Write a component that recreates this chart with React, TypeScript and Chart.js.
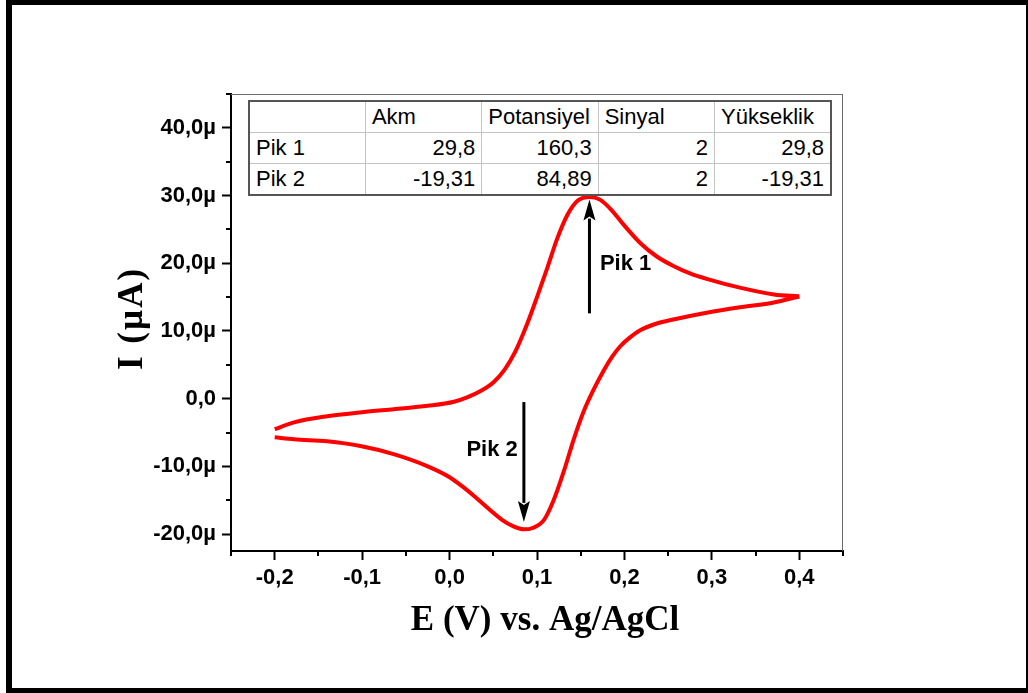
import React, { useEffect, useRef } from 'react';
import { Chart, registerables } from 'chart.js';

Chart.register(...registerables);

// Cyclic voltammogram: forward (anodic) scan, E in V, I in µA
const forwardE = [-0.200, -0.178, -0.140, -0.100, -0.064, -0.025, 0.005, 0.020, 0.035, 0.050, 0.063, 0.075, 0.088, 0.100, 0.112, 0.123, 0.135, 0.147, 0.160, 0.172, 0.185, 0.199, 0.218, 0.237, 0.256, 0.275, 0.294, 0.332, 0.371, 0.400];
const forwardI = [-4.5, -3.5, -2.6, -2.0, -1.55, -1.05, -0.45, 0.2, 1.1, 2.4, 4.3, 6.9, 10.8, 15.0, 19.4, 23.6, 27.2, 29.3, 29.8, 29.4, 27.9, 25.7, 23.0, 21.0, 19.6, 18.5, 17.7, 16.4, 15.4, 15.1];
// reverse (cathodic) scan
const reverseE = [0.400, 0.371, 0.332, 0.294, 0.256, 0.237, 0.218, 0.205, 0.195, 0.186, 0.176, 0.165, 0.153, 0.142, 0.131, 0.119, 0.108, 0.095, 0.085, 0.072, 0.060, 0.045, 0.030, 0.015, 0.000, -0.025, -0.064, -0.102, -0.140, -0.178, -0.200];
const reverseI = [15.1, 14.2, 13.5, 12.7, 11.7, 11.1, 10.1, 8.9, 7.7, 6.2, 4.1, 1.4, -2.0, -6.0, -10.6, -15.0, -17.9, -19.1, -19.3, -18.8, -17.9, -16.3, -14.6, -13.0, -11.6, -10.0, -8.2, -7.0, -6.3, -6.0, -5.7];

const xTickValues = [-0.2, -0.1, 0, 0.1, 0.2, 0.3, 0.4];
const xMinorValues = [-0.25, -0.15, -0.05, 0.05, 0.15, 0.25, 0.35, 0.45];
const yTickValues = [-20, -10, 0, 10, 20, 30, 40];
const yMinorValues = [-15, -5, 5, 15, 25, 35, 45];

const xTitle = 'E (V) vs. Ag/AgCl';
const yTitle = 'I (µA)';

// Peak arrows and labels
const arrowE = [0.160, 0.085];
const arrowFromI = [12.6, -0.5];
const arrowToI = [29.4, -18.2];
const peakLabels = ['Pik 1', 'Pik 2'];
const peakLabelE = [0.172, 0.078];
const peakLabelI = [19.9, -7.5];
const peakLabelAlign: CanvasTextAlign[] = ['left', 'right'];

// Peak table
const tableHeader = ['', 'Akm', 'Potansiyel', 'Sinyal', 'Yükseklik'];
const tableRowNames = ['Pik 1', 'Pik 2'];
const tableAkm = ['29,8', '-19,31'];
const tablePotansiyel = ['160,3', '84,89'];
const tableSinyal = ['2', '2'];
const tableYukseklik = ['29,8', '-19,31'];

const SANS = '"Liberation Sans", Arial, sans-serif';
const SERIF = '"Liberation Serif", "Times New Roman", serif';

const fmtX = (v: number) => v.toFixed(1).replace('.', ',');
const fmtY = (v: number) => (v === 0 ? '0,0' : v.toFixed(1).replace('.', ',') + 'µ');

const decorPlugin = {
  id: 'decor',
  afterDraw(chart: any) {
    const { ctx, chartArea, scales } = chart;
    const x = scales.x;
    const y = scales.y;
    ctx.save();
    // top and right frame
    ctx.strokeStyle = '#6a6a6a';
    ctx.lineWidth = 1;
    ctx.beginPath();
    ctx.moveTo(chartArea.left, chartArea.top + 0.5);
    ctx.lineTo(chartArea.right, chartArea.top + 0.5);
    ctx.moveTo(chartArea.right - 0.5, chartArea.top);
    ctx.lineTo(chartArea.right - 0.5, chartArea.bottom);
    ctx.stroke();
    // minor ticks
    ctx.strokeStyle = '#000';
    ctx.lineWidth = 2;
    ctx.beginPath();
    xMinorValues.forEach((v) => {
      const px = Math.round(x.getPixelForValue(v));
      ctx.moveTo(px, chartArea.bottom);
      ctx.lineTo(px, chartArea.bottom + 5);
    });
    yMinorValues.forEach((v) => {
      const py = Math.round(y.getPixelForValue(v));
      ctx.moveTo(chartArea.left, py);
      ctx.lineTo(chartArea.left - 5, py);
    });
    ctx.stroke();
    // arrows
    arrowE.forEach((e, i) => {
      const px = x.getPixelForValue(e);
      const y0 = y.getPixelForValue(arrowFromI[i]);
      const y1 = y.getPixelForValue(arrowToI[i]);
      const dir = Math.sign(y1 - y0);
      const headLen = 21;
      const headHalf = 6;
      ctx.strokeStyle = '#000';
      ctx.fillStyle = '#000';
      ctx.lineWidth = 3;
      ctx.beginPath();
      ctx.moveTo(px, y0);
      ctx.lineTo(px, y1 - dir * (headLen - 2));
      ctx.stroke();
      ctx.beginPath();
      ctx.moveTo(px, y1);
      ctx.lineTo(px - headHalf, y1 - dir * headLen);
      ctx.lineTo(px, y1 - dir * (headLen - 4));
      ctx.lineTo(px + headHalf, y1 - dir * headLen);
      ctx.closePath();
      ctx.fill();
    });
    // peak labels
    ctx.font = `bold 22px ${SANS}`;
    ctx.fillStyle = '#000';
    ctx.textBaseline = 'middle';
    peakLabels.forEach((t, i) => {
      ctx.textAlign = peakLabelAlign[i];
      ctx.fillText(t, x.getPixelForValue(peakLabelE[i]), y.getPixelForValue(peakLabelI[i]));
    });
    // axis titles
    ctx.font = `bold 35px ${SERIF}`;
    ctx.textAlign = 'center';
    ctx.textBaseline = 'middle';
    const cx = (chartArea.left + chartArea.right) / 2 + 8;
    ctx.fillText(xTitle, cx, chartArea.bottom + 70);
    ctx.save();
    ctx.translate(chartArea.left - 98, (chartArea.top + chartArea.bottom) / 2 - 4);
    ctx.rotate(-Math.PI / 2);
    try {
      (ctx as any).letterSpacing = '2px';
    } catch (e) {
      /* ignore */
    }
    ctx.fillText(yTitle, 0, 0);
    ctx.restore();
    ctx.restore();
  },
};

export default function App() {
  const canvasRef = useRef<HTMLCanvasElement | null>(null);

  useEffect(() => {
    const canvas = canvasRef.current;
    if (!canvas) return;
    const tickFont = { family: SANS, size: 22, weight: 'bold' as const };
    const lineStyle = {
      showLine: true,
      borderColor: '#ff0000',
      borderWidth: 4,
      pointRadius: 0,
      cubicInterpolationMode: 'monotone' as const,
      fill: false,
    };
    const chart = new Chart(canvas, {
      type: 'scatter',
      data: {
        datasets: [
          { ...lineStyle, data: forwardE.map((e, i) => ({ x: e, y: forwardI[i] })) },
          { ...lineStyle, data: reverseE.map((e, i) => ({ x: e, y: reverseI[i] })) },
        ],
      },
      options: {
        animation: false,
        responsive: false,
        devicePixelRatio: 1,
        layout: { padding: { left: 114, right: 185, top: 94, bottom: 53 } },
        plugins: { legend: { display: false }, tooltip: { enabled: false } },
        scales: {
          x: {
            type: 'linear',
            min: -0.25,
            max: 0.45,
            afterBuildTicks: (s: any) => {
              s.ticks = xTickValues.map((v) => ({ value: v }));
            },
            afterFit: (s: any) => {
              s.height = 89;
            },
            grid: { display: true, drawOnChartArea: false, drawTicks: true, tickLength: 9, tickWidth: 2, tickColor: '#000' },
            border: { display: true, color: '#000', width: 2 },
            ticks: {
              color: '#000',
              padding: 5,
              font: tickFont,
              maxRotation: 0,
              autoSkip: false,
              callback: (v: any) => fmtX(Number(v)),
            },
          },
          y: {
            type: 'linear',
            min: -22.5,
            max: 45,
            afterBuildTicks: (s: any) => {
              s.ticks = yTickValues.map((v) => ({ value: v }));
            },
            afterFit: (s: any) => {
              s.width = 117;
            },
            grid: { display: true, drawOnChartArea: false, drawTicks: true, tickLength: 9, tickWidth: 2, tickColor: '#000' },
            border: { display: true, color: '#000', width: 2 },
            ticks: {
              color: '#000',
              padding: 6,
              font: tickFont,
              autoSkip: false,
              callback: (v: any) => fmtY(Number(v)),
            },
          },
        },
      },
      plugins: [decorPlugin],
    });
    return () => chart.destroy();
  }, []);

  const cellBase: React.CSSProperties = {
    border: '1px solid #c4c4c4',
    padding: '0 6px',
    height: 30,
    whiteSpace: 'nowrap',
    overflow: 'hidden',
  };
  const rows = tableRowNames.map((name, i) => [name, tableAkm[i], tablePotansiyel[i], tableSinyal[i], tableYukseklik[i]]);

  return (
    <div style={{ position: 'absolute', left: 0, top: 0, width: 1028, height: 693, background: '#fff', overflow: 'hidden' }}>
      <canvas ref={canvasRef} width={1028} height={693} style={{ position: 'absolute', left: 0, top: 0, width: 1028, height: 693 }} />
      <table
        style={{
          position: 'absolute',
          left: 248,
          top: 100,
          width: 584,
          height: 92,
          borderCollapse: 'collapse',
          tableLayout: 'fixed',
          border: '2px solid #555',
          background: '#fff',
          fontFamily: SANS,
          fontSize: 22,
          color: '#000',
          lineHeight: '24px',
        }}
      >
        <tbody>
          <tr>
            {tableHeader.map((h, j) => (
              <td key={j} style={{ ...cellBase, textAlign: 'left' }}>{h}</td>
            ))}
          </tr>
          {rows.map((r, i) => (
            <tr key={i}>
              {r.map((c, j) => (
                <td key={j} style={{ ...cellBase, textAlign: j === 0 ? 'left' : 'right' }}>{c}</td>
              ))}
            </tr>
          ))}
        </tbody>
      </table>
      <div style={{ position: 'absolute', left: 6, top: 0, width: 1022, height: 5, background: '#000' }} />
      <div style={{ position: 'absolute', left: 6, top: 0, width: 6, height: 693, background: '#000' }} />
      <div style={{ position: 'absolute', left: 6, top: 688, width: 1022, height: 5, background: '#000' }} />
      <div style={{ position: 'absolute', left: 1026, top: 0, width: 2, height: 693, background: '#000' }} />
    </div>
  );
}
